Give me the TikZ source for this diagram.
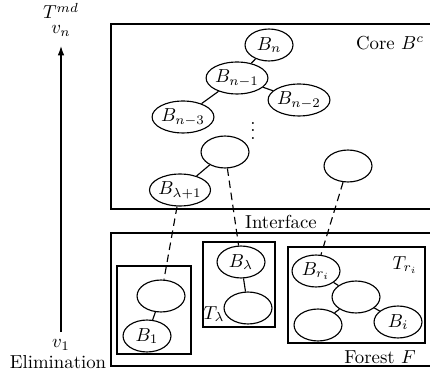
\documentclass[tikz,border=0pt]{standalone}
\usetikzlibrary{shapes.geometric,arrows.meta}
\begin{document}
\begin{tikzpicture}[x=0.532pt,y=-0.532pt,
  bag/.style={draw, ellipse, line width=0.6pt, minimum width=25.5pt,
              minimum height=17pt, inner sep=0pt},
  lbl/.style={inner sep=0.5pt},
  frame/.style={line width=0.7pt},
  tie/.style={line width=0.6pt},
  link/.style={line width=0.6pt, dash pattern=on 4pt off 2.5pt}]
\useasboundingbox (0,0) rectangle (430,375);

% elimination order axis
\node[lbl] (vone) at (61,345) {$v_1$};
\node[lbl] (vn) at (61,31) {$v_n$};
\node[lbl] (tmd) at (61,11) {$T^{md}$};
\node[lbl] (elim) at (58,362) {Elimination};
\coordinate (abase) at (61,332);
\coordinate (atip) at (61,46);
\draw[tie,-{Latex[length=5pt,width=3.5pt]}] (abase) -- (atip);

% core and forest regions (open to the right)
\draw[frame] (430,24) -- (111,24) -- (111,209) -- (430,209);
\draw[frame] (430,233) -- (111,233) -- (111,366) -- (430,366);
\node[lbl] (core) at (390,43) {Core $B^c$};
\node[lbl] (iface) at (281,222) {Interface};
\node[lbl] (forest) at (380,357) {Forest $F$};

% core bags
\node[bag] (bn) at (269,45) {$B_n$};
\node[bag] (bn1) at (237,78) {$B_{n-1}$};
\node[bag] (bn2) at (299,100) {$B_{n-2}$};
\node[bag] (bn3) at (183,117) {$B_{n-3}$};
\node[inner sep=0pt] (dots) at (253,125) {$\vdots$};
\node[bag] (cl) at (225,152) {};
\node[bag] (cr) at (348,166) {};
\node[bag] (bl1) at (180,190) {$B_{\lambda+1}$};

% forest trees
\draw[frame] (117,266) rectangle (191,354);
\node[bag] (f1) at (161,296) {};
\node[bag] (b1) at (147,336) {$B_1$};

\draw[frame] (203,242) rectangle (275,327);
\node[bag] (blam) at (241,262) {$B_\lambda$};
\node[bag] (fl) at (248,308) {};
\node[lbl] (tlam) at (214,314) {$T_\lambda$};

\draw[frame] (288,247) rectangle (425,343);
\node[bag] (bri) at (316,271) {$B_{r_i}$};
\node[bag] (fm) at (356,297) {};
\node[bag] (fb) at (318,325) {};
\node[bag] (bi) at (398,322) {$B_i$};
\node[lbl] (tri) at (405,265) {$T_{r_i}$};

% tree edges
\draw[tie] (bn) -- (bn1);
\draw[tie] (bn1) -- (bn3);
\draw[tie] (bn1) -- (bn2);
\draw[tie] (cl) -- (bl1);
\draw[tie] (f1) -- (b1);
\draw[tie] (blam) -- (fl);
\draw[tie] (bri) -- (fm);
\draw[tie] (fm) -- (fb);
\draw[tie] (fm) -- (bi);

% links across the interface
\draw[link] (bl1) -- (f1);
\draw[link] (cl) -- (blam);
\draw[link] (cr) -- (bri);
\end{tikzpicture}
\end{document}
